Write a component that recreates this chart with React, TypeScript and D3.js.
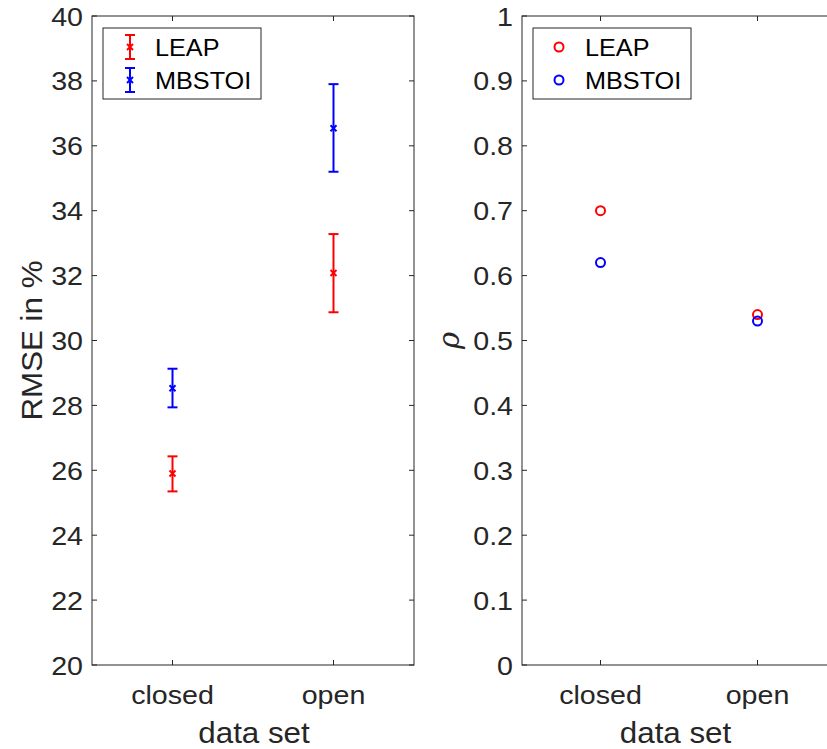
import React from "react";
import * as d3 from "d3";

const categories = ["closed", "open"];
const seriesNames = ["LEAP", "MBSTOI"];
const seriesColors = ["#ff0000", "#0000ff"];
// RMSE in %
const rmseLeap = [25.9, 32.08];
const rmseLeapLow = [25.35, 30.87];
const rmseLeapHigh = [26.43, 33.28];
const rmseMbstoi = [28.53, 36.54];
const rmseMbstoiLow = [27.94, 35.2];
const rmseMbstoiHigh = [29.13, 37.9];
// correlation rho
const rhoLeap = [0.7, 0.54];
const rhoMbstoi = [0.62, 0.53];
const leftTicks = [20, 22, 24, 26, 28, 30, 32, 34, 36, 38, 40];
const rightTicks = [0, 0.1, 0.2, 0.3, 0.4, 0.5, 0.6, 0.7, 0.8, 0.9, 1];

const W = 827;
const H = 749;
const axisColor = "#262626";
const font = "Liberation Sans, Arial, Helvetica, sans-serif";
const top = 16;
const bottom = 665;

function T({ x, y, anchor = "start", size, sx = 1.08, rot = 0, fill = axisColor, dy = "0", family = font, italic = false, children }: any) {
  return (
    <g transform={`translate(${x},${y}) rotate(${rot}) scale(${sx},1)`}>
      <text x={0} y={0} dy={dy} textAnchor={anchor} fontSize={size} fill={fill} fontFamily={family} fontStyle={italic ? "italic" : "normal"}>
        {children}
      </text>
    </g>
  );
}

function Frame({ x0, x1, yTicks, y, fmt, xs }: any) {
  const tl = 5;
  return (
    <g>
      <rect x={x0} y={top} width={x1 - x0} height={bottom - top} fill="none" stroke={axisColor} strokeWidth={1} />
      {yTicks.map((t: number) => (
        <g key={t}>
          <line x1={x0} x2={x0 + tl} y1={y(t)} y2={y(t)} stroke={axisColor} />
          <line x1={x1} x2={x1 - tl} y1={y(t)} y2={y(t)} stroke={axisColor} />
          <T x={x0 - 9} y={y(t)} dy="0.36em" anchor="end" size={26.5}>
            {fmt(t)}
          </T>
        </g>
      ))}
      {categories.map((c, i) => (
        <g key={c}>
          <line x1={xs(i + 1)} x2={xs(i + 1)} y1={bottom} y2={bottom - tl} stroke={axisColor} />
          <line x1={xs(i + 1)} x2={xs(i + 1)} y1={top} y2={top + tl} stroke={axisColor} />
          <T x={xs(i + 1)} y={bottom + 39} anchor="middle" size={26.5}>
            {c}
          </T>
        </g>
      ))}
      <T x={(x0 + Math.min(x1, W)) / 2 + 1} y={bottom + 78} anchor="middle" size={29}>
        data set
      </T>
    </g>
  );
}

function ErrBar({ x, yc, yl, yh, color }: any) {
  const cw = 5;
  const m = 3;
  return (
    <g stroke={color} strokeWidth={2} fill="none">
      <line x1={x} x2={x} y1={yh} y2={yl} />
      <line x1={x - cw} x2={x + cw} y1={yh} y2={yh} />
      <line x1={x - cw} x2={x + cw} y1={yl} y2={yl} />
      <line x1={x - m} x2={x + m} y1={yc - m} y2={yc + m} />
      <line x1={x - m} x2={x + m} y1={yc + m} y2={yc - m} />
    </g>
  );
}

export default function App() {
  const lx0 = 92, lx1 = 414;
  const rx0 = 522, rx1 = 836;
  const xl = d3.scaleLinear().domain([0.5, 2.5]).range([lx0, lx1]);
  const xr = d3.scaleLinear().domain([0.5, 2.5]).range([rx0, rx1]);
  const yl = d3.scaleLinear().domain([20, 40]).range([bottom, top]);
  const yr = d3.scaleLinear().domain([0, 1]).range([bottom, top]);

  const rmse = [
    { c: rmseLeap, lo: rmseLeapLow, hi: rmseLeapHigh },
    { c: rmseMbstoi, lo: rmseMbstoiLow, hi: rmseMbstoiHigh },
  ];
  const rho = [rhoLeap, rhoMbstoi];
  const fmtR = (t: number) => (t === 0 || t === 1 ? String(t) : d3.format(".1f")(t));

  return (
    <svg width={W} height={H} style={{ position: "absolute", left: 0, top: 0, background: "#fff" }}>
      <rect width={W} height={H} fill="#fff" />
      <Frame x0={lx0} x1={lx1} yTicks={leftTicks} y={yl} fmt={(t: number) => String(t)} xs={xl} />
      <Frame x0={rx0} x1={rx1} yTicks={rightTicks} y={yr} fmt={fmtR} xs={xr} />
      <g transform={`translate(42,${(top + bottom) / 2}) rotate(-90) scale(1.08,1)`}>
        <text textAnchor="middle" fontSize={29} fill={axisColor} fontFamily={font}>
          RMSE in %
        </text>
      </g>
      <g transform={`translate(459,${(top + bottom) / 2}) rotate(-90)`}>
        <text textAnchor="middle" fontSize={29} fill={axisColor} fontFamily="DejaVu Serif, serif" fontStyle="italic">
          ρ
        </text>
      </g>
      {rmse.map((s, si) =>
        s.c.map((v, i) => (
          <ErrBar key={`${si}-${i}`} x={xl(i + 1)} yc={yl(v)} yl={yl(s.lo[i])} yh={yl(s.hi[i])} color={seriesColors[si]} />
        ))
      )}
      {rho.map((s, si) =>
        s.map((v, i) => (
          <circle key={`${si}-${i}`} cx={xr(i + 1)} cy={yr(v)} r={4.5} fill="none" stroke={seriesColors[si]} strokeWidth={2} />
        ))
      )}
      {/* legends */}
      <g>
        <rect x={103} y={28} width={158} height={71} fill="#fff" stroke={axisColor} strokeWidth={1} />
        {seriesNames.map((n, i) => (
          <g key={n}>
            <ErrBar x={130} yc={47 + i * 33} yl={59 + i * 33} yh={35 + i * 33} color={seriesColors[i]} />
            <T x={155} y={47 + i * 33} dy="0.36em" size={24.5} sx={1.03} fill="#000">
              {n}
            </T>
          </g>
        ))}
      </g>
      <g>
        <rect x={533} y={28} width={158} height={71} fill="#fff" stroke={axisColor} strokeWidth={1} />
        {seriesNames.map((n, i) => (
          <g key={n}>
            <circle cx={559} cy={47 + i * 33} r={4.5} fill="none" stroke={seriesColors[i]} strokeWidth={2} />
            <T x={585} y={47 + i * 33} dy="0.36em" size={24.5} sx={1.03} fill="#000">
              {n}
            </T>
          </g>
        ))}
      </g>
    </svg>
  );
}
